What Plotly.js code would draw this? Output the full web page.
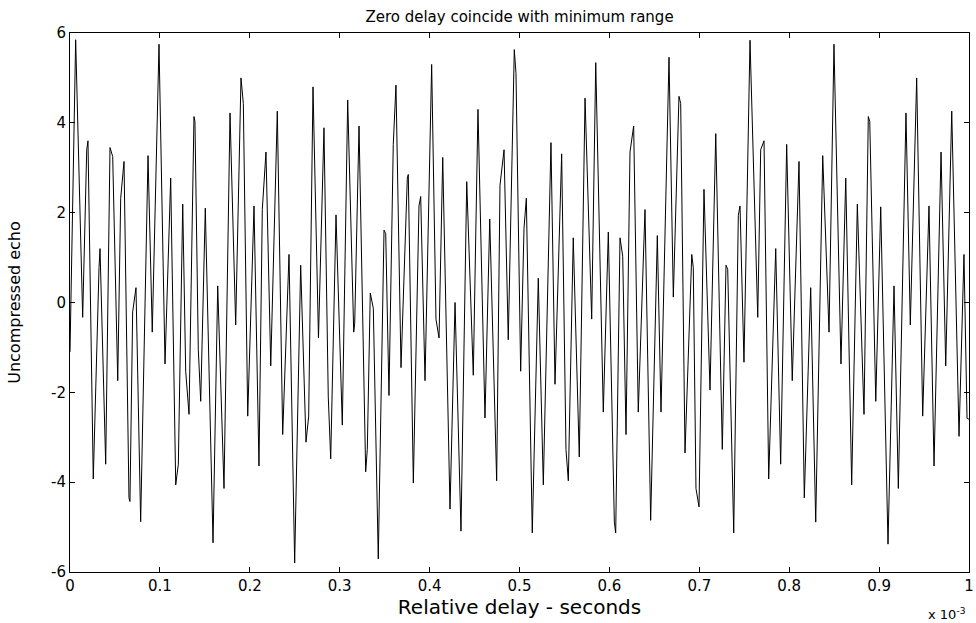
<!DOCTYPE html>
<html>
<head>
<meta charset="utf-8">
<script src="https://cdn.plot.ly/plotly-3.0.1.min.js"></script>
<style>
html,body{margin:0;padding:0;background:#fff;}
#chart{width:976px;height:623px;}
</style>
</head>
<body>
<div id="chart"></div>
<script>
// Relative delay in units of 1e-3 s
const delayMs = [
  0.0000,0.0063,0.0141,0.0186,0.0200,0.0259,0.0323,0.0334,0.0397,0.0445,0.0475,0.0531,0.0564,0.0601,0.0656,0.0667,0.0697,0.0734,0.0786,0.0868,
  0.0915,0.0990,0.1057,0.1120,0.1176,0.1205,0.1254,0.1287,0.1324,0.1379,0.1390,0.1427,0.1454,0.1505,0.1591,0.1643,0.1713,0.1780,
  0.1843,0.1902,0.1928,0.1977,0.2047,0.2102,0.2139,0.2180,0.2233,0.2306,0.2366,0.2436,0.2499,0.2566,0.2625,0.2655,0.2703,0.2764,
  0.2825,0.2873,0.2900,0.2959,0.3029,0.3089,0.3156,0.3167,0.3215,0.3289,0.3307,0.3340,0.3374,0.3429,0.3493,0.3512,0.3548,0.3596,0.3626,0.3682,
  0.3752,0.3763,0.3819,0.3882,0.3901,0.3949,0.4023,0.4071,0.4105,0.4146,0.4227,0.4283,0.4349,0.4413,0.4486,0.4538,0.4616,
  0.4669,0.4746,0.4783,0.4828,0.4875,0.4942,0.4961,0.5013,0.5050,0.5076,0.5142,0.5209,0.5265,0.5350,0.5395,0.5469,0.5517,0.5543,0.5598,
  0.5665,0.5729,0.5803,0.5848,0.5932,0.5988,0.6055,0.6070,0.6118,0.6148,0.6185,0.6229,0.6270,0.6321,0.6396,0.6459,0.6533,
  0.6574,0.6663,0.6711,0.6774,0.6793,0.6841,0.6916,0.6933,0.6963,0.6997,0.7052,0.7119,0.7183,0.7256,0.7297,0.7316,0.7383,0.7434,0.7453,
  0.7497,0.7564,0.7650,0.7683,0.7720,0.7772,0.7850,0.7905,0.7972,0.8034,0.8109,0.8168,0.8239,0.8295,0.8373,
  0.8443,0.8498,0.8576,0.8629,0.8695,0.8758,0.8832,0.8880,0.8896,0.8963,0.9018,0.9099,0.9166,0.9214,0.9299,
  0.9347,0.9418,0.9485,0.9555,0.9611,0.9689,0.9741,0.9808,0.9889,0.9944,0.9978,1.0000
];
// Uncompressed echo amplitude (real part)
const echo = [
  -1.1,5.85,-0.33,3.4,3.6,-3.93,0.78,1.2,-3.6,3.45,3.25,-1.74,2.32,3.14,-4.35,-4.43,-0.21,0.33,-4.88,3.27,
  -0.66,5.75,-1.37,2.77,-4.06,-3.6,2.19,-1.53,-2.49,4.14,4.03,-1.04,-2.2,2.1,-5.35,0.37,-4.14,4.22,
  -0.5,5.0,4.43,-2.53,2.15,-3.64,2.07,3.35,-1.41,4.26,-2.94,1.07,-5.8,0.83,-3.11,-2.53,4.8,-0.79,
  3.89,-2.1,-3.48,1.95,-2.73,4.51,-0.66,-0.46,3.93,-3.77,-3.27,0.21,-0.13,-5.71,1.61,1.53,-2.07,3.52,4.84,-1.45,
  2.77,2.85,-4.02,2.15,2.36,-1.74,5.3,-0.37,-0.79,3.23,-4.6,0.0,-5.09,2.69,-1.62,4.3,-2.57,
  1.86,-3.97,2.61,3.4,-0.83,5.63,5.1,-1.53,1.65,2.32,-5.13,0.54,-4.06,3.56,-1.82,3.31,-3.27,-3.97,1.44,
  -3.44,4.55,-0.37,5.34,-2.44,1.57,-4.89,-5.13,1.44,1.03,-2.94,3.35,3.93,-2.44,2.07,-4.85,1.49,
  -2.44,5.46,0.12,4.59,4.43,-3.35,1.07,0.78,-4.14,-4.55,2.52,-1.95,3.76,-3.27,0.83,0.74,-5.13,1.94,2.15,
  -1.33,5.84,-0.33,3.4,3.6,-3.93,1.2,-3.6,3.52,-1.74,3.14,-4.35,0.33,-4.89,3.27,
  -0.66,5.75,-1.37,2.77,-4.06,2.19,-2.49,4.14,4.03,-2.2,2.13,-5.38,0.37,-4.14,4.22,
  -0.5,5.0,-2.53,2.15,-3.64,3.35,-1.41,4.26,-2.98,1.07,-2.58,-2.6
];
const xTickVals = [0,0.1,0.2,0.3,0.4,0.5,0.6,0.7,0.8,0.9,1];
const xTickText = ["0","0.1","0.2","0.3","0.4","0.5","0.6","0.7","0.8","0.9","1"];
const yTickVals = [-6,-4,-2,0,2,4,6];
const yTickText = ["-6","-4","-2","0","2","4","6"];

const FONT = 'DejaVu Sans, Liberation Sans, Arial, sans-serif';

const trace = {
  x: delayMs,
  y: echo,
  type: 'scatter',
  mode: 'lines',
  line: {color: '#000000', width: 1},
  hoverinfo: 'skip'
};

const axisCommon = {
  showgrid: false,
  zeroline: false,
  showline: true,
  linecolor: '#000000',
  linewidth: 1,
  mirror: 'ticks',
  ticks: 'inside',
  ticklen: 5,
  tickwidth: 1,
  tickcolor: '#000000',
  tickmode: 'array',
  automargin: false,
  tickfont: {family: FONT, size: 15, color: '#000000'}
};

const layout = {
  width: 976,
  height: 623,
  paper_bgcolor: '#ffffff',
  plot_bgcolor: '#ffffff',
  showlegend: false,
  margin: {l: 70, r: 7, t: 33, b: 51, pad: 0},
  title: {
    text: 'Zero delay coincide with minimum range',
    font: {family: FONT, size: 15, color: '#000000'},
    xref: 'paper', x: 0.5, xanchor: 'center',
    yref: 'container', y: 0.973, yanchor: 'middle'
  },
  xaxis: Object.assign({}, axisCommon, {
    range: [0, 1],
    tickvals: xTickVals,
    ticktext: xTickText,
    title: {text: 'Relative delay - seconds', font: {family: FONT, size: 20, color: '#000000'}, standoff: 4}
  }),
  yaxis: Object.assign({}, axisCommon, {
    range: [-6, 6],
    tickvals: yTickVals,
    ticktext: yTickText,
    title: {text: 'Uncompressed echo', font: {family: FONT, size: 16, color: '#000000'}, standoff: 26}
  }),
  annotations: [{
    text: 'x 10<sup>-3</sup>',
    xref: 'paper', yref: 'paper',
    x: 0.975, y: -0.078,
    xanchor: 'center', yanchor: 'middle',
    showarrow: false,
    font: {family: FONT, size: 13, color: '#000000'}
  }]
};

Plotly.newPlot('chart', [trace], layout, {displayModeBar: false, staticPlot: true});
</script>
</body>
</html>
